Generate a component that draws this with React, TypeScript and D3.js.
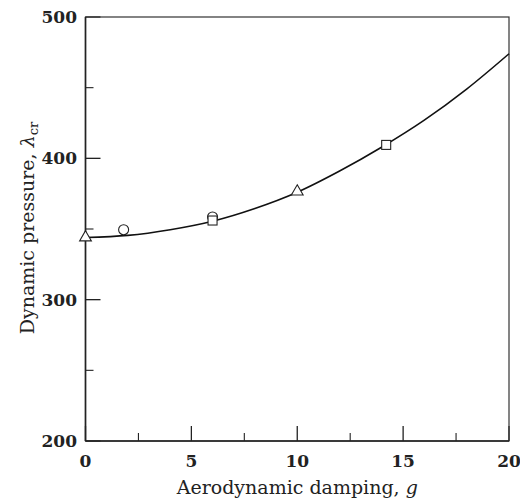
import React from "react";
import * as d3 from "d3";

// curve
const curveG = [0, 2, 4, 6, 8, 10, 12, 14, 16, 18, 20];
const curveLambda = [344, 345.5, 349.5, 355.5, 364.5, 376, 391, 408, 427, 449, 474];

// markers
const circleG = [1.8, 6];
const circleLambda = [349.5, 358.5];
const squareG = [6, 14.2];
const squareLambda = [356, 409.5];
const triangleG = [0, 10];
const triangleLambda = [344, 376.5];

const xTicks = [0, 5, 10, 15, 20];
const xMinor = [2.5, 7.5, 12.5, 17.5];
const yTicks = [200, 300, 400, 500];
const yMinor = [250, 350, 450];

const W = 520;
const H = 504;
const left = 85.5;
const right = 509;
const top = 17;
const bottom = 441;

const font = "'DejaVu Serif', serif";

export default function App() {
  const x = d3.scaleLinear().domain([0, 20]).range([left, right]);
  const y = d3.scaleLinear().domain([200, 500]).range([bottom, top]);

  const line = d3
    .line<number>()
    .x((_, i) => x(curveG[i]))
    .y((d) => y(d))
    .curve(d3.curveCatmullRom);

  const tri = d3.symbol(d3.symbolTriangle, 60);

  return (
    <svg width={W} height={H} style={{ position: "absolute", left: 0, top: 0 }}>
      <rect width={W} height={H} fill="#fff" />

      {/* ticks, inward */}
      {xTicks.map((t) => (
        <line key={"xt" + t} x1={x(t)} x2={x(t)} y1={bottom} y2={bottom - 15} stroke="#222" strokeWidth={1.3} />
      ))}
      {xMinor.map((t) => (
        <line key={"xm" + t} x1={x(t)} x2={x(t)} y1={bottom} y2={bottom - 8} stroke="#222" strokeWidth={1.1} />
      ))}
      {yTicks.map((t) => (
        <line key={"yt" + t} x1={left} x2={left + 15} y1={y(t)} y2={y(t)} stroke="#222" strokeWidth={1.3} />
      ))}
      {yMinor.map((t) => (
        <line key={"ym" + t} x1={left} x2={left + 8} y1={y(t)} y2={y(t)} stroke="#222" strokeWidth={1.1} />
      ))}

      {/* frame */}
      <rect x={left} y={top} width={right - left} height={bottom - top} fill="none" stroke="#333" strokeWidth={1.2} />
      <line x1={left} x2={left} y1={top} y2={bottom} stroke="#222" strokeWidth={1.6} />
      <line x1={left} x2={right} y1={bottom} y2={bottom} stroke="#222" strokeWidth={1.6} />

      {/* tick labels */}
      {xTicks.map((t) => (
        <text key={"xl" + t} x={x(t)} y={467} textAnchor="middle" fontFamily={font} fontWeight="bold" fontSize={17} fill="#222">
          {t}
        </text>
      ))}
      {yTicks.map((t) => (
        <text key={"yl" + t} x={77} y={y(t) + 6} textAnchor="end" fontFamily={font} fontWeight="bold" fontSize={17} fill="#222">
          {t}
        </text>
      ))}

      {/* curve */}
      <path d={line(curveLambda) ?? ""} fill="none" stroke="#111" strokeWidth={1.6} />

      {/* markers */}
      {circleG.map((g, i) => (
        <circle key={"c" + i} cx={x(g)} cy={y(circleLambda[i])} r={5} fill="#fff" stroke="#222" strokeWidth={1.1} />
      ))}
      {squareG.map((g, i) => (
        <rect key={"s" + i} x={x(g) - 4.5} y={y(squareLambda[i]) - 4.5} width={9} height={9} fill="#fff" stroke="#222" strokeWidth={1.1} />
      ))}
      {triangleG.map((g, i) => (
        <path
          key={"t" + i}
          d={tri() ?? ""}
          transform={`translate(${x(g)},${y(triangleLambda[i])})`}
          fill="#fff"
          stroke="#222"
          strokeWidth={1.1}
        />
      ))}

      {/* axis titles */}
      <text x={(left + right) / 2} y={494} textAnchor="middle" fontFamily={font} fontSize={19} fill="#222">
        Aerodynamic damping, <tspan fontStyle="italic">g</tspan>
      </text>
      <text
        transform={`translate(34,228) rotate(-90)`}
        textAnchor="middle"
        fontFamily={font}
        fontSize={19}
        fill="#222"
      >
        Dynamic pressure, <tspan fontStyle="italic">λ</tspan>
        <tspan fontSize={13} dy={4}>cr</tspan>
      </text>
    </svg>
  );
}
